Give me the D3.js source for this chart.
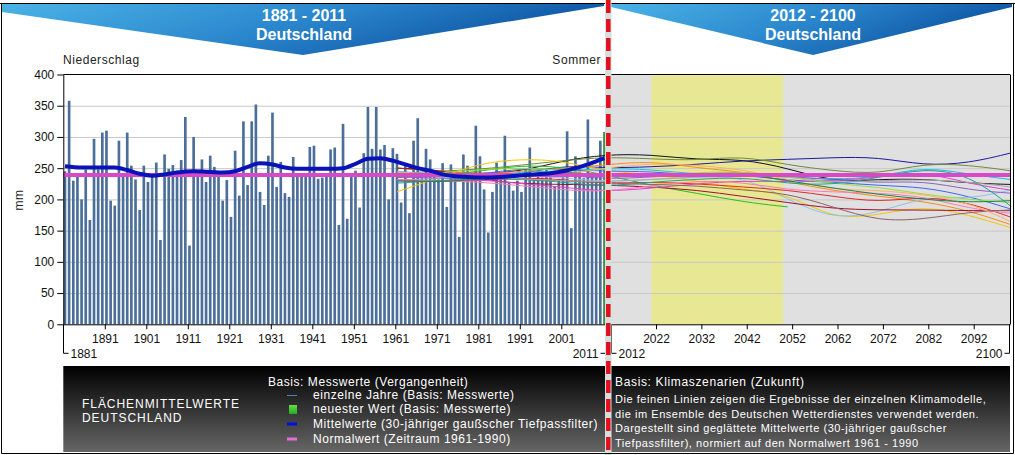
<!DOCTYPE html>
<html><head><meta charset="utf-8">
<script src="https://cdn.jsdelivr.net/npm/d3@7"></script>
<style>body{margin:0;background:#fff}svg{display:block;font-family:"Liberation Sans",Arial,sans-serif}</style>
</head><body><svg id="c" width="1015" height="455"></svg>
<script>
// ---------------- DATA ----------------
const years = d3.range(1881, 2012);
const precip = [
245,358,230,238,200,248,167,297,248,307, 310,198,190,294,237,307,254,232,183,254,
228,236,259,135,272,249,255,246,263,332, 126,300,245,264,228,270,252,240,198,231,
172,278,206,325,223,325,352,212,191,270, 339,220,260,210,204,268,236,240,242,284,
286,233,235,240,280,283,159,321,169,239, 246,187,274,348,281,348,280,287,200,282,
273,195,255,178,294,330,242,281,264,242, 232,258,188,256,232,140,272,254,240,318,
269,216,147,212,259,232,302,227,214,230, 212,248,283,234,237,235,248,237,221,233,
237,309,154,269,248,234,328,240,240,294, 308];
const latestYear = 2011;
const meanYears  = [1881,1885,1889,1893,1896,1899,1902,1905,1908,1912,1916,1919,1922,1925,1928,1931,1934,1937,1941,1945,1948,1951,1954,1957,1960,1963,1966,1969,1972,1975,1978,1982,1986,1990,1994,1998,2001,2004,2007,2009,2011];
const meanValues = [253,251,251,251,247,241,238,240,243,245,244,243,245,252,258,256,251,249,249,249,250,257,265,266,262,256,250,246,240,237,236,235,236,238,240,242,245,250,256,261,266];
const normalValue = 239;
const yTicks = [0,50,100,150,200,250,300,350,400];
const pastTicks = [1891,1901,1911,1921,1931,1941,1951,1961,1971,1981,1991,2001];
const futureTicks = [2022,2032,2042,2052,2062,2072,2082,2092];
const futureRange = [2012, 2100];
const focusPeriod = [2021, 2050];
const modelYears = [1961,1971,1981,1991,2001,2011,2021,2031,2041,2051,2061,2071,2081,2091,2100];
const modelValues = [
 [250,246,240,245,262,272,272,263,265,250,228,232,233,226,224],
 [240,238,236,240,255,250,252,256,262,264,267,268,254,258,274],
 [242,245,248,255,262,268,265,262,270,255,246,240,258,255,246],
 [250,246,240,245,250,255,262,250,245,228,214,205,197,182,160],
 [212,235,258,265,262,245,240,230,215,210,168,175,190,175,155],
 [235,238,245,255,252,240,222,210,196,188],
 [245,240,235,245,245,250,248,240,238,236,232,235,253,240,232],
 [238,236,240,250,248,245,245,238,240,230,228,222,220,205,185],
 [230,234,240,238,235,228,232,235,238,200,168,178,205,200,215],
 [232,228,230,235,232,225,228,225,220,215,205,195,205,195,172],
 [250,248,232,225,224,223,220,215,205,195,185,183,183,182,182],
 [228,230,232,225,220,212,218,225,230,228,230,235,245,225,215],
 [232,230,228,222,215,212,222,230,228,215,212,210,205,185,178],
 [236,234,232,238,240,232,236,240,245,236,232,226,230,215,210],
 [240,238,235,232,230,226,224,222,215,210,188,165,168,180,183],
 [238,242,248,250,248,235,238,243,245,236,225,220,208,200,195],
 [226,230,234,232,228,220,228,232,236,225,223,235,250,240,190],
 [244,240,238,242,240,250,258,255,248,232,215,215,208,195,165],
 [242,240,236,233,230,228,232,236,240,238,226,230,232,228,220],
 [230,228,232,240,245,238,236,240,242,230,218,208,200,195,198]
];
const headerLeft = ["1881 - 2011","Deutschland"];
const headerRight = ["2012 - 2100","Deutschland"];
const legendPast = ["einzelne Jahre (Basis: Messwerte)","neuester Wert (Basis: Messwerte)","Mittelwerte (30-jähriger gaußscher Tiefpassfilter)","Normalwert (Zeitraum 1961-1990)"];
const legendFuture = ["Die feinen Linien zeigen die Ergebnisse der einzelnen Klimamodelle,","die im Ensemble des Deutschen Wetterdienstes verwendet werden.","Dargestellt sind geglättete Mittelwerte (30-jähriger gaußscher","Tiefpassfilter), normiert auf den Normalwert 1961 - 1990"];

// ---------------- STYLE ----------------
const modelColors = ["#111111","#1a1aa0","#6f8a3a","#ff8a10","#f2c800","#22c022","#10c4e0","#3a66ff","#8cc2f0","#e02828","#a0102e","#e040d0","#ff78b8","#8a60c8","#8b6464","#98e030","#22a098","#ffb060","#a8a8a8","#158a48"];
const L = 63.3, R = 1010, T = 74.5, B = 324.3, MIDL = 606.95, MIDR = 610.6;

const svg = d3.select("#c");
const defs = svg.append("defs");
const gb = defs.append("linearGradient").attr("id","ban").attr("x1",0).attr("x2",1).attr("y1",0).attr("y2",0.3);
gb.append("stop").attr("offset",0).attr("stop-color","#4ab3e7");
gb.append("stop").attr("offset",0.55).attr("stop-color","#2a86cc");
gb.append("stop").attr("offset",1).attr("stop-color","#0c52a0");
const gl = defs.append("linearGradient").attr("id","leg").attr("x1",0).attr("x2",0).attr("y1",0).attr("y2",1);
gl.append("stop").attr("offset",0).attr("stop-color","#000");
gl.append("stop").attr("offset",1).attr("stop-color","#666");
const gg = defs.append("linearGradient").attr("id","grn").attr("x1",0).attr("x2",0).attr("y1",0).attr("y2",1);
gg.append("stop").attr("offset",0).attr("stop-color","#66dd44");
gg.append("stop").attr("offset",1).attr("stop-color","#22aa22");

// scales
const y = d3.scaleLinear().domain([0,400]).range([B,T]);
const xb = d3.scaleBand().domain(years).range([L, MIDL]).padding(0);
const xPastAxis = d3.scaleLinear().domain([1881, 2012]).range([L, MIDL]);
const xFut = d3.scaleLinear().domain(futureRange).range([MIDR, R]);
const xYear = v => v <= 2011.5 ? xPastAxis(v + 0.4) : xFut(v);

// backgrounds
svg.append("rect").attr("x",MIDR).attr("y",T).attr("width",R-MIDR).attr("height",B-T).attr("fill","#e0e0e0");
svg.append("rect").attr("x",xFut(focusPeriod[0])).attr("y",T).attr("width",xFut(focusPeriod[1])-xFut(focusPeriod[0])).attr("height",B-T).attr("fill","#e8e894");

// grid
svg.append("g").selectAll("line").data(yTicks.filter(d=>d>0&&d<400)).join("line")
  .attr("x1",L).attr("x2",R).attr("y1",d=>y(d)+0.5).attr("y2",d=>y(d)+0.5)
  .attr("stroke","#c8c8c8").attr("stroke-width",1);

// bars
const bw = xb.bandwidth();
svg.append("g").selectAll("rect").data(years).join("rect")
  .attr("x",d=>xb(d)+0.35).attr("width",bw*0.64)
  .attr("y",(d,i)=>y(precip[i])).attr("height",(d,i)=>B-y(precip[i]))
  .attr("fill",d=>d===latestYear?"#3c8f3c":"#4b6f98");

// model lines
const mline = d3.line().x(d=>xYear(d[0])).y(d=>y(d[1])).curve(d3.curveBasis);
svg.append("g").selectAll("path").data(modelValues).join("path")
  .attr("d",vals=>mline(vals.map((v,i)=>[modelYears[i],v])))
  .attr("fill","none").attr("stroke",(d,i)=>modelColors[i]).attr("stroke-width",1);

// normal line
svg.append("line").attr("x1",L).attr("x2",R).attr("y1",y(normalValue)).attr("y2",y(normalValue))
  .attr("stroke","#d848c8").attr("stroke-width",4);

// mean line
const meanLine = d3.line().x(d=>xYear(d[0])).y(d=>y(d[1])).curve(d3.curveMonotoneX);
svg.append("path").attr("d",meanLine(meanYears.map((yr,i)=>[yr,meanValues[i]])))
  .attr("fill","none").attr("stroke","#0a12b8").attr("stroke-width",4).attr("stroke-linejoin","round");

// frame of plot
svg.append("line").attr("x1",L).attr("x2",R).attr("y1",T).attr("y2",T).attr("stroke","#000");
svg.append("line").attr("x1",R+0.5).attr("x2",R+0.5).attr("y1",T).attr("y2",B).attr("stroke","#000");

// axes
const fontAxis = g => g.attr("font-family","'Liberation Sans',Arial,sans-serif").attr("font-size",12)
   .call(g=>g.selectAll("text").attr("fill","#111")).call(g=>g.selectAll("line,path").attr("stroke","#000"));
svg.append("g").attr("transform",`translate(${L},0)`)
  .call(d3.axisLeft(y).tickValues(yTicks).tickSize(6).tickSizeOuter(0).tickPadding(3)).call(fontAxis);
svg.append("g").attr("transform",`translate(0,${B})`)
  .call(d3.axisBottom(xPastAxis).tickValues(pastTicks).tickFormat(d3.format("d")).tickSize(5).tickSizeOuter(0).tickPadding(5)).call(fontAxis);
svg.append("g").attr("transform",`translate(0,${B})`)
  .call(d3.axisBottom(xFut).tickValues(futureTicks).tickFormat(d3.format("d")).tickSize(5).tickSizeOuter(0).tickPadding(5)).call(fontAxis);
svg.append("line").attr("x1",MIDL).attr("x2",MIDR).attr("y1",B+0.5).attr("y2",B+0.5).attr("stroke","#000");

// end labels with bracket ticks
const endG = svg.append("g").attr("stroke","#000").attr("fill","none");
const ends = [
  {x:xPastAxis(1881), dir:1, label:"1881"},
  {x:xPastAxis(2011)+2, dir:-1, label:"2011"},
  {x:xFut(2012), dir:1, label:"2012"},
  {x:xFut(2100)-1, dir:-1, label:"2100"}];
ends.forEach(e=>{
  const xx = Math.round(e.x)+0.5;
  endG.append("path").attr("d",`M${xx},${B}V${B+29}H${xx+e.dir*5}`);
  svg.append("text").attr("x",xx+e.dir*7).attr("y",B+34).attr("text-anchor",e.dir>0?"start":"end")
    .attr("font-size",12).attr("fill","#111").text(e.label);
});

// titles
const ls = 0.55;
svg.append("text").attr("x",63).attr("y",64).attr("font-size",12).attr("letter-spacing",ls).attr("fill","#222").text("Niederschlag");
svg.append("text").attr("x",601).attr("y",64).attr("font-size",12).attr("letter-spacing",ls).attr("fill","#222").attr("text-anchor","end").text("Sommer");
svg.append("text").attr("transform","translate(23,200) rotate(-90)").attr("font-size",12).attr("letter-spacing",ls).attr("fill","#222").attr("text-anchor","middle").text("mm");

// header banners
svg.append("line").attr("x1",0).attr("x2",1015).attr("y1",3.5).attr("y2",3.5).attr("stroke","#000");
svg.append("polygon").attr("points","2,4 604,4 604,6 303,55 2,12").attr("fill","url(#ban)");
svg.append("polygon").attr("points","611,4 1012,4 1012,7 813,55 611,7").attr("fill","url(#ban)");
[[304,headerLeft],[813,headerRight]].forEach(([cx,lines])=>{
  lines.forEach((t,i)=>svg.append("text").attr("x",cx).attr("y",21+i*19).attr("text-anchor","middle")
    .attr("font-size",16).attr("font-weight","bold").attr("fill","#fff").text(t));
});

// legend panel
const LT = 366, LB = 452;
svg.append("rect").attr("x",L).attr("y",LT).attr("width",R-L).attr("height",LB-LT).attr("fill","url(#leg)");
const wt = (x,yy,t,fs,sp)=>svg.append("text").attr("x",x).attr("y",yy).attr("font-size",fs||12)
  .attr("letter-spacing",sp==null?ls:sp).attr("fill","#fff").text(t);
wt(82,408,"FLÄCHENMITTELWERTE",12,0.95);
wt(82,422,"DEUTSCHLAND",12,0.95);
wt(268,386,"Basis: Messwerte (Vergangenheit)");
const ly = [399,413,428,443];
legendPast.forEach((t,i)=>wt(313,ly[i],t));
svg.append("line").attr("x1",287).attr("x2",297).attr("y1",395.5).attr("y2",395.5).attr("stroke","#4b80c4").attr("stroke-width",1);
svg.append("rect").attr("x",289).attr("y",405).attr("width",8).attr("height",9).attr("fill","url(#grn)");
svg.append("line").attr("x1",287).attr("x2",297).attr("y1",424).attr("y2",424).attr("stroke","#0010e0").attr("stroke-width",3);
svg.append("line").attr("x1",287).attr("x2",297).attr("y1",439).attr("y2",439).attr("stroke","#e070d8").attr("stroke-width",3);
wt(615,386,"Basis: Klimaszenarien (Zukunft)",12,0.65);
legendFuture.forEach((t,i)=>wt(615,403+i*14.5,t,11,0.55));

// divider
svg.append("rect").attr("x",605).attr("y",0).attr("width",6.5).attr("height",455).attr("fill","#d6dede");
svg.append("line").attr("x1",608.3).attr("x2",608.3).attr("y1",0).attr("y2",455).attr("stroke","#e2101c").attr("stroke-width",4.5).attr("stroke-dasharray","13,6");

// outer frame
svg.append("path").attr("d","M1.5,3.5V453.5H1013.5V3.5").attr("fill","none").attr("stroke","#000");
</script></body></html>
